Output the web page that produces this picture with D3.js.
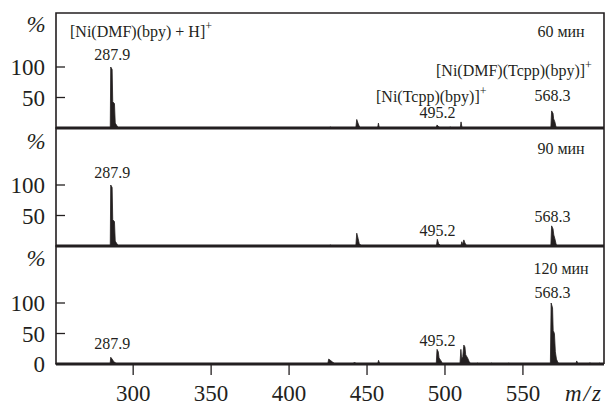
<!DOCTYPE html>
<html><head><meta charset="utf-8">
<script src="https://cdn.jsdelivr.net/npm/d3@7"></script>
<style>body{margin:0;background:#fff}svg{display:block}</style>
</head><body><svg id="c" width="609" height="407" style="font-family:'Liberation Serif'"></svg>
<script>
// ---- data ----
const xTicks = [300, 350, 400, 450, 500, 550];
const panelNames = ["60 мин", "90 мин", "120 мин"];
const yTicks60 = [50, 100];
const yTicks90 = [50, 100];
const yTicks120 = [0, 50, 100];
// profile points [m/z, %]
const spectrum60 = [[250,0],[285.3,0],[285.6,100],[286.5,96],[286.9,43],[288.0,40],[288.5,8],[290,2],[291,0],
 [426,0],[426.5,2],[427,0],[442.8,0],[443.4,14],[444.2,8],[445,3],[446,0],[456.8,0],[457.3,8],[457.9,0],
 [494.3,0],[494.9,5],[496,2],[497,0],[503,0],[503.4,2],[504,0],[509.8,0],[510.3,10],[511,0],
 [567.9,0],[568.4,28],[569.3,24],[569.7,15],[570.5,10],[571.2,2],[572,0],[602,0]];
const spectrum90 = [[250,0],[285.3,0],[285.6,100],[286.5,96],[286.9,43],[288.0,40],[288.5,8],[290,2],[291,0],
 [426,0],[426.5,2],[427,0],[442.8,0],[443.4,21],[444.3,12],[445,4],[446.5,0],
 [494.5,0],[495.1,11],[495.9,4],[497,1],[498,0],[510.2,0],[510.8,7],[511.3,2],[512.1,10],[512.8,5],[514,0],
 [567.9,0],[568.4,33],[569.3,28],[569.8,18],[570.5,12],[571.3,3],[572,0],[602,0]];
const spectrum120 = [[250,0],[285.2,0],[285.6,11],[286.5,8],[287.5,4],[289,1],[290,0],
 [337.5,0],[338,1.5],[338.5,0],[384.5,0],[385,1.5],[385.5,0],[386.5,0],[387,1.5],[387.5,0],
 [424.8,0],[425.4,8],[426.5,6],[428,3],[429.6,0],[441,0],[441.5,2],[442.5,2],[443,0],
 [456.8,0],[457.4,6],[458.2,0],[468,0],[468.3,1.5],[468.8,0],
 [494.4,0],[494.9,24],[495.7,20],[496.2,10],[497.5,5],[498.5,0],
 [509.6,0],[510.2,24],[510.7,8],[511.4,12],[512.1,31],[512.8,28],[513.3,15],[514.5,10],[515.5,4],[516.5,0],
 [520,0],[521,1.5],[522,0],[529,0],[530,1.5],[531,0],[540,0],[541,1.5],[542,0],
 [567.6,0],[568.1,100],[569.0,92],[569.4,55],[570.2,50],[570.8,20],[571.5,8],[572.5,2],[573.5,0],
 [584,0],[584.5,5],[585,2],[586,0],[592,0],[593,2],[594,0],[598,0],[599,1.5],[600,0],[602,0]];
// annotations: [text, m/z, % , superscript]
const labels60 = [["287.9",286.5,112,""],["495.2",495.2,16,""],["568.3",569,45,""],
 ["[Ni(DMF)(bpy) + H]",null,null,"+"],["[Ni(Tcpp)(bpy)]",null,null,"+"],["[Ni(DMF)(Tcpp)(bpy)]",null,null,"+"]];
const labels90 = [["287.9",286.5,112,""],["495.2",495.2,16,""],["568.3",569,40,""]];
const labels120 = [["287.9",286.5,24,""],["495.2",495.2,29,""],["568.3",569,108,""]];

// ---- layout ----
const svg = d3.select("#c");
const L = 56, R = 604;
const panels = [
  {top:13, base:128, data:spectrum60, ticks:yTicks60, labels:labels60, name:panelNames[0]},
  {top:130, base:246, data:spectrum90, ticks:yTicks90, labels:labels90, name:panelNames[1]},
  {top:247, base:364, data:spectrum120, ticks:yTicks120, labels:labels120, name:panelNames[2]}
];
const x = d3.scaleLinear().domain([250.5, 602]).range([L, R]);
const ink = "#231f20";
function txt(sel) {
  return sel.append("text").attr("font-family", "Liberation Serif")
    .style("font-family", '"Liberation Serif"').attr("fill", ink);
}

// spectra + baselines + ticks first
const ys = panels.map(p => d3.scaleLinear().domain([0, 100]).range([p.base, p.base - 61]));
panels.forEach((p, i) => {
  const y = ys[i];
  const area = d3.area().x(d => x(d[0])).y0(p.base).y1(d => y(d[1]));
  svg.append("path").datum(p.data).attr("d", area).attr("fill", ink).attr("stroke", ink).attr("stroke-width", 0.8);
  svg.append("line").attr("x1", L).attr("x2", R).attr("y1", p.base).attr("y2", p.base)
    .attr("stroke", ink).attr("stroke-width", 3);
  p.ticks.forEach(d => {
    svg.append("line").attr("x1", L).attr("x2", L + 9).attr("y1", y(d)).attr("y2", y(d))
      .attr("stroke", ink).attr("stroke-width", 1.3);
  });
});
xTicks.forEach(d => {
  svg.append("line").attr("x1", x(d)).attr("x2", x(d)).attr("y1", 364).attr("y2", 375)
    .attr("stroke", ink).attr("stroke-width", 1.3);
});
svg.append("path").attr("d", `M${L},364V13H${R}V364`).attr("fill", "none")
  .attr("stroke", ink).attr("stroke-width", 1.6);

// texts
panels.forEach((p, i) => {
  const y = ys[i];
  p.ticks.forEach(d => {
    txt(svg).attr("x", 45).attr("y", y(d) + 8).attr("text-anchor", "end").attr("font-size", 23).text(d);
  });
  txt(svg).attr("x", 36).attr("y", p.top + 19).attr("text-anchor", "middle")
    .attr("font-size", 23).attr("font-style", "italic").text("%");
  txt(svg).attr("x", 561).attr("y", p.top + (i===2 ? 27 : 24)).attr("text-anchor", "middle")
    .attr("font-size", 16).text(p.name);
  p.labels.filter(l => l[1] !== null).forEach(l => {
    txt(svg).attr("x", x(l[1])).attr("y", y(l[2])).attr("text-anchor", "middle")
      .attr("font-size", 16).text(l[0]);
  });
});
const comp = [[labels60[3], 70, 37], [labels60[4], 376, 102], [labels60[5], 436, 76]];
comp.forEach(([l, cx, cy]) => {
  const t = txt(svg).attr("x", cx).attr("y", cy).attr("font-size", 16);
  t.append("tspan").text(l[0]);
  t.append("tspan").attr("dy", -7).attr("font-size", 12).text(l[3]);
});
xTicks.forEach(d => {
  txt(svg).attr("x", x(d)).attr("y", 401).attr("text-anchor", "middle").attr("font-size", 23).text(d);
});
txt(svg).attr("x", 565).attr("y", 401).attr("font-size", 23).attr("font-style", "italic")
  .attr("letter-spacing", 2).text("m/z");
</script></body></html>
